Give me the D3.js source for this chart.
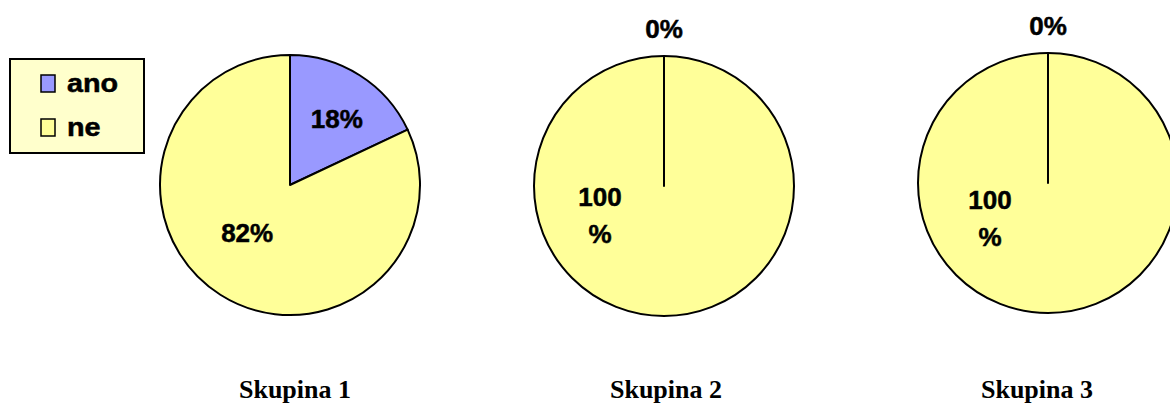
<!DOCTYPE html>
<html>
<head>
<meta charset="utf-8">
<style>
body{margin:0;background:#fff;}
svg{display:block;}
.lbl{font-family:"Liberation Sans",Arial,sans-serif;font-weight:bold;font-size:26px;fill:#000;stroke:#000;stroke-width:0.5px;}
.leg{font-family:"Liberation Sans",Arial,sans-serif;font-weight:bold;font-size:25px;fill:#000;stroke:#000;stroke-width:0.5px;}
.title{font-family:"Liberation Serif","Times New Roman",serif;font-weight:bold;font-size:26px;fill:#000;}
</style>
<title>Skupina 1-3</title>
</head>
<body>
<svg id="chart" width="1170" height="403"></svg>
<script src="https://d3js.org/d3.v7.min.js"></script>
<script>
// data
var categories = ["ano", "ne"];
var groups = ["Skupina 1", "Skupina 2", "Skupina 3"];
var anoValues = [18, 0, 0];
var neValues = [82, 100, 100];

// layout (not data)
var centers = [[290, 185], [664, 186], [1048, 183]];
var titleX = [295, 666, 1037];
var radius = 130;
// nudges from the label centroid, like excel's best fit
var nudges = [
    {ano: [4, 2], ne: [0, -20]},
    {ano: [0, 0], ne: [-64, -51]},
    {ano: [0, 0], ne: [-58, -45]}
];

var color = d3.scaleOrdinal().domain(categories).range(["#9999FF", "#FFFF99"]);

var svg = d3.select("#chart");

var pie = d3.pie().sort(null).value(function(d){ return d.value; });
var arc = d3.arc().innerRadius(0).outerRadius(radius);
var labelArc = d3.arc().innerRadius(80).outerRadius(80);

groups.forEach(function(g, i){
    var rows = [
        {cat: "ano", value: anoValues[i]},
        {cat: "ne", value: neValues[i]}
    ];
    var gp = svg.append("g")
        .attr("transform", "translate(" + centers[i][0] + "," + centers[i][1] + ")");

    var slices = pie(rows);

    var paths = gp.selectAll("path").data(slices).enter().append("path")
        .attr("d", arc)
        .attr("fill", function(d){ return color(d.data.cat); })
        .attr("stroke", "#000")
        .attr("stroke-width", 2)
        .attr("stroke-linejoin", "round");

    // empty slices are just a radius line, keep them on top of the full circle
    paths.filter(function(d){ return d.data.value === 0; }).raise();

    // labels
    slices.forEach(function(d){
        var txt = d.data.value + "%";
        if (d.data.value === 0) {
            // zero slice: label sits just above the top of the pie
            gp.append("text").attr("class", "lbl")
                .attr("text-anchor", "middle")
                .attr("x", 0).attr("y", -(radius + 18))
                .text(txt);
            return;
        }
        var c = labelArc.centroid(d);
        var n = nudges[i][d.data.cat];
        var x = c[0] + n[0], y = c[1] + n[1];
        var t = gp.append("text").attr("class", "lbl").attr("text-anchor", "middle");
        if (d.data.value === 100) {
            // excel wrapped this one onto two lines
            t.append("tspan").attr("x", x).attr("y", y - 9).text(String(d.data.value));
            t.append("tspan").attr("x", x).attr("y", y + 28).text("%");
        } else {
            t.attr("x", x).attr("y", y + 9).text(txt);
        }
    });

    svg.append("text").attr("class", "title")
        .attr("text-anchor", "middle")
        .attr("x", titleX[i]).attr("y", 398)
        .text(g);
});

// legend
var leg = svg.append("g");
leg.append("rect")
    .attr("x", 10).attr("y", 59).attr("width", 134).attr("height", 94)
    .attr("fill", "#FFFFCC").attr("stroke", "#000").attr("stroke-width", 2);

var item = leg.selectAll(".item").data(categories).enter().append("g")
    .attr("class", "item")
    .attr("transform", function(d, k){ return "translate(41," + (75 + k * 44) + ")"; });

item.append("rect")
    .attr("width", 14).attr("height", 17)
    .attr("fill", function(d){ return color(d); })
    .attr("stroke", "#000").attr("stroke-width", 1.5);

item.append("text").attr("class", "leg")
    .attr("transform", "translate(26,17) scale(1.15,1)")
    .text(function(d){ return d; });
</script>
</body>
</html>
